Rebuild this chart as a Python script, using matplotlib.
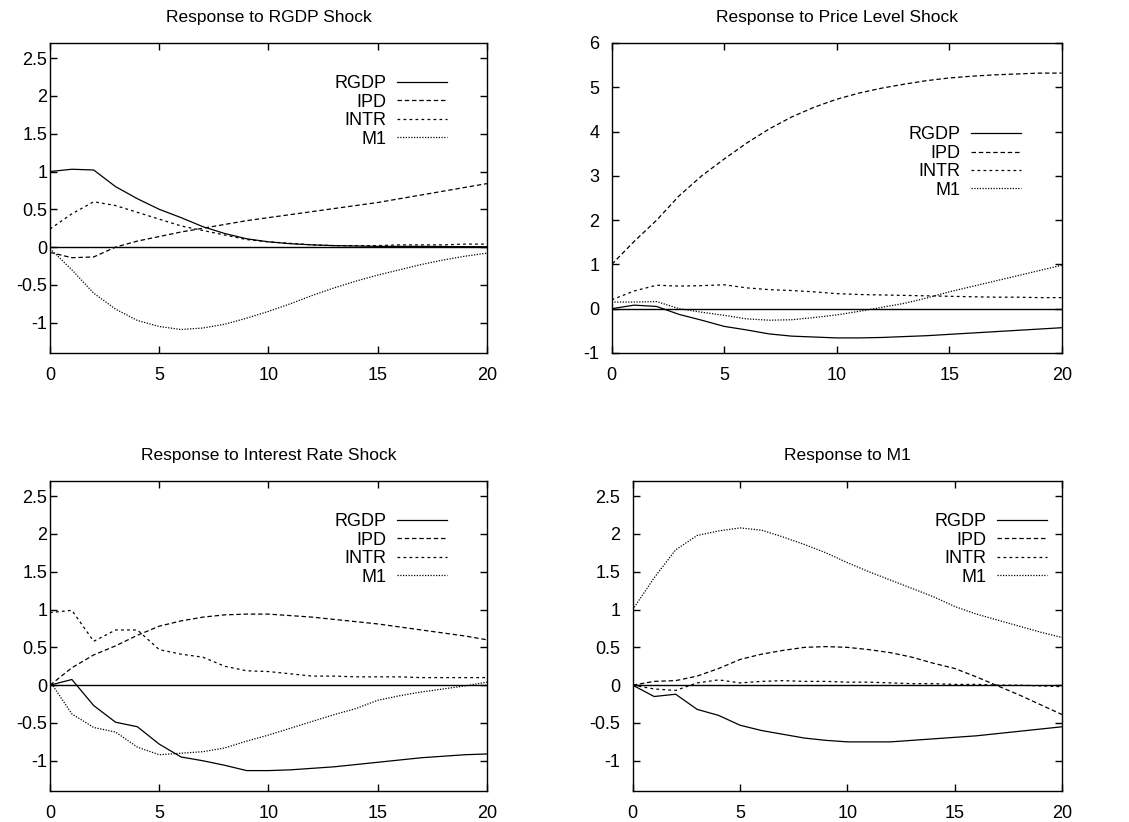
import matplotlib
matplotlib.use('Agg')
import matplotlib.pyplot as plt

plt.rcParams['font.family'] = ['Liberation Sans', 'DejaVu Sans']
plt.rcParams['axes.unicode_minus'] = False

periods = list(range(21))
series_names = ['RGDP', 'IPD', 'INTR', 'M1']

# Response to RGDP shock
rgdp_shock = {
    'RGDP': [1.00, 1.03, 1.02, 0.80, 0.64, 0.50, 0.39, 0.27, 0.18, 0.11, 0.07,
             0.045, 0.03, 0.02, 0.015, 0.01, 0.01, 0.01, 0.008, 0.006, 0.005],
    'IPD': [-0.07, -0.14, -0.13, 0.00, 0.08, 0.14, 0.20, 0.25, 0.30, 0.35, 0.39,
            0.43, 0.47, 0.51, 0.55, 0.59, 0.64, 0.69, 0.74, 0.79, 0.84],
    'INTR': [0.24, 0.44, 0.60, 0.55, 0.46, 0.37, 0.28, 0.22, 0.16, 0.10, 0.07,
             0.05, 0.03, 0.02, 0.02, 0.02, 0.03, 0.03, 0.03, 0.04, 0.04],
    'M1': [-0.02, -0.30, -0.61, -0.82, -0.97, -1.05, -1.09, -1.07, -1.02, -0.94, -0.85,
           -0.75, -0.64, -0.54, -0.45, -0.37, -0.30, -0.23, -0.17, -0.12, -0.08],
}

# Response to price level shock
price_shock = {
    'RGDP': [0.00, 0.08, 0.05, -0.13, -0.26, -0.40, -0.48, -0.57, -0.62, -0.64, -0.66,
             -0.66, -0.65, -0.63, -0.61, -0.58, -0.55, -0.52, -0.49, -0.46, -0.43],
    'IPD': [1.00, 1.52, 2.00, 2.55, 3.00, 3.38, 3.74, 4.06, 4.33, 4.55, 4.73,
            4.87, 4.98, 5.07, 5.15, 5.21, 5.25, 5.28, 5.30, 5.32, 5.32],
    'INTR': [0.20, 0.40, 0.53, 0.51, 0.52, 0.54, 0.47, 0.43, 0.41, 0.38, 0.34,
             0.32, 0.31, 0.30, 0.29, 0.28, 0.27, 0.26, 0.26, 0.25, 0.25],
    'M1': [0.15, 0.15, 0.16, 0.00, -0.08, -0.15, -0.23, -0.26, -0.25, -0.20, -0.14,
           -0.06, 0.03, 0.12, 0.24, 0.38, 0.50, 0.62, 0.74, 0.86, 0.98],
}

# Response to interest rate shock
intr_shock = {
    'RGDP': [0.00, 0.075, -0.27, -0.49, -0.55, -0.78, -0.95, -1.00, -1.06, -1.13, -1.13,
             -1.12, -1.10, -1.08, -1.05, -1.02, -0.99, -0.96, -0.94, -0.92, -0.91],
    'IPD': [0.00, 0.23, 0.40, 0.52, 0.66, 0.78, 0.85, 0.90, 0.93, 0.94, 0.94,
            0.92, 0.90, 0.87, 0.84, 0.81, 0.77, 0.73, 0.69, 0.65, 0.60],
    'INTR': [0.96, 0.99, 0.58, 0.73, 0.73, 0.47, 0.41, 0.37, 0.25, 0.19, 0.18,
             0.15, 0.12, 0.12, 0.11, 0.11, 0.11, 0.10, 0.10, 0.10, 0.10],
    'M1': [0.05, -0.38, -0.56, -0.62, -0.82, -0.92, -0.90, -0.88, -0.83, -0.74, -0.66,
           -0.57, -0.48, -0.39, -0.31, -0.20, -0.14, -0.09, -0.05, -0.01, 0.04],
}

# Response to M1 shock
m1_shock = {
    'RGDP': [0.00, -0.15, -0.12, -0.32, -0.40, -0.53, -0.60, -0.65, -0.70, -0.73, -0.75,
             -0.75, -0.75, -0.73, -0.71, -0.69, -0.67, -0.64, -0.61, -0.58, -0.55],
    'IPD': [0.00, 0.05, 0.06, 0.12, 0.22, 0.34, 0.41, 0.46, 0.50, 0.51, 0.50,
            0.47, 0.43, 0.37, 0.29, 0.22, 0.11, -0.01, -0.13, -0.26, -0.39],
    'INTR': [0.00, -0.05, -0.07, 0.03, 0.07, 0.03, 0.05, 0.06, 0.05, 0.05, 0.04,
             0.04, 0.03, 0.02, 0.02, 0.01, 0.01, 0.00, 0.00, -0.01, -0.02],
    'M1': [1.00, 1.42, 1.79, 1.98, 2.04, 2.08, 2.05, 1.96, 1.86, 1.75, 1.62,
           1.50, 1.39, 1.28, 1.17, 1.04, 0.94, 0.86, 0.78, 0.70, 0.63],
}

titles = ['Response to RGDP Shock', 'Response to Price Level Shock',
          'Response to Interest Rate Shock', 'Response to M1']
panels = [rgdp_shock, price_shock, intr_shock, m1_shock]

line_styles = {
    'RGDP': '-',
    'IPD': (0, (3.6, 2.2)),
    'INTR': (0, (2.2, 2.6)),
    'M1': (0, (1.0, 1.2)),
}

# axes rectangles (left, bottom, width, height) in figure fractions
rects = [
    (0.0443, 0.5706, 0.3870, 0.3771),
    (0.5418, 0.5706, 0.3986, 0.3771),
    (0.0443, 0.0377, 0.3870, 0.3771),
    (0.5604, 0.0377, 0.3805, 0.3771),
]
ylims = [(-1.4, 2.7), (-1, 6), (-1.4, 2.7), (-1.4, 2.7)]
yticks = [[-1, -0.5, 0, 0.5, 1, 1.5, 2, 2.5], list(range(-1, 7)),
          [-1, -0.5, 0, 0.5, 1, 1.5, 2, 2.5], [-1, -0.5, 0, 0.5, 1, 1.5, 2, 2.5]]
legend_anchor = [(0.93, 0.925), (0.93, 0.76), (0.93, 0.925), (0.986, 0.925)]
ypads = [2, 9, 2, 9]


def draw_panel(fig, rect, data, title, ylim, ticks, anchor, ypad):
    ax = fig.add_axes(rect)
    ax.axhline(0, color='black', lw=1.0, zorder=1)
    for name in series_names:
        ax.plot(periods, data[name], color='black', lw=0.9,
                linestyle=line_styles[name], label=name)
    ax.set_xlim(0, 20)
    ax.set_ylim(*ylim)
    ax.set_xticks([0, 5, 10, 15, 20])
    ax.set_yticks(ticks)
    ax.set_yticklabels(['%g' % t for t in ticks])
    ax.tick_params(direction='in', length=5, width=1, top=True, right=True,
                   labelsize=13, colors='black')
    ax.tick_params(axis='y', pad=ypad)
    ax.tick_params(axis='x', pad=10)
    for sp in ax.spines.values():
        sp.set_linewidth(1.0)
    ax.set_title(title, fontsize=12.5, pad=15)
    ax.legend(loc='upper right', bbox_to_anchor=anchor, frameon=False,
              markerfirst=False, fontsize=13, handlelength=2.8,
              handletextpad=0.55, labelspacing=0.08, borderpad=0)
    return ax


def main():
    fig = plt.figure(figsize=(11.29, 8.22), dpi=100)
    for i in range(4):
        draw_panel(fig, rects[i], panels[i], titles[i], ylims[i], yticks[i],
                   legend_anchor[i], ypads[i])
    fig.savefig('out.png', dpi=100, facecolor='white')
    plt.close(fig)


if __name__ == "__main__":
    main()
